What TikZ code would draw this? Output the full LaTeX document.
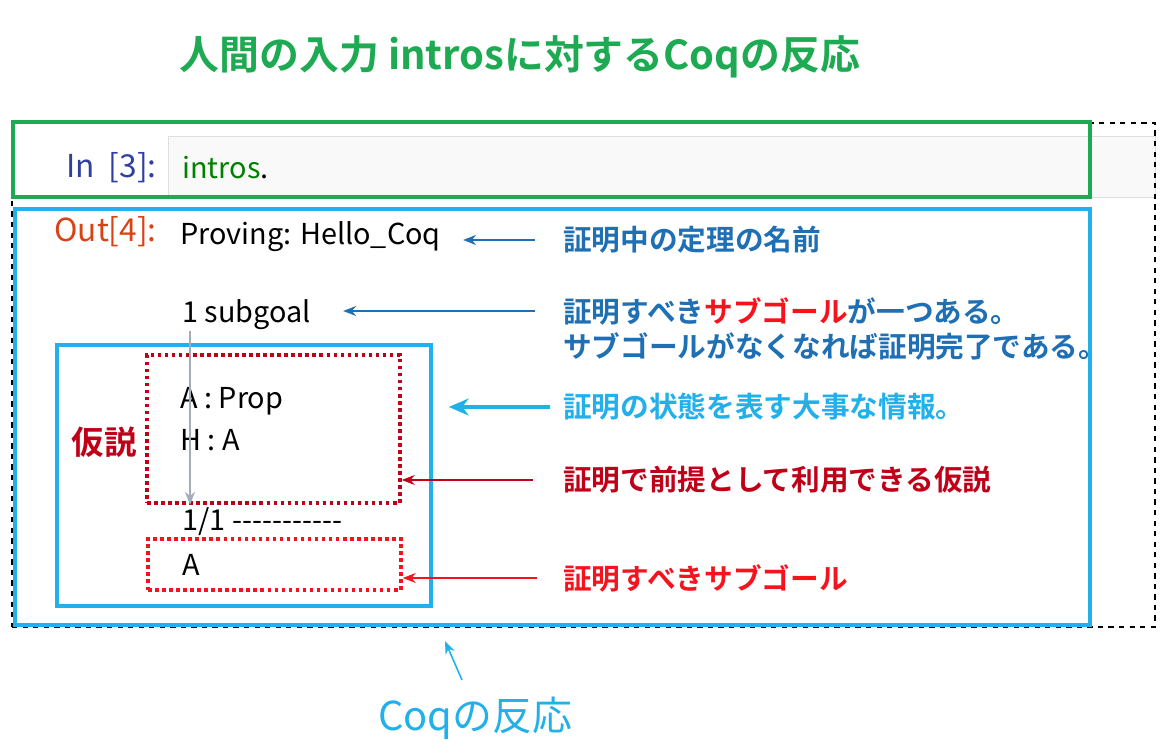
\documentclass[tikz,border=0pt]{standalone}
\usepackage{fontspec}
\setmainfont[BoldFont={Noto Sans CJK JP Bold}]{Noto Sans CJK JP}
\newfontfamily\codefont{Noto Sans CJK JP}
\usetikzlibrary{arrows.meta}
\definecolor{titlegreen}{HTML}{1DAA52}
\definecolor{boxcyan}{HTML}{22B0EA}
\definecolor{noteblue}{HTML}{1F6FB5}
\definecolor{hypred}{HTML}{C00018}
\definecolor{goalred}{HTML}{F5141E}
\definecolor{inblue}{HTML}{303F9F}
\definecolor{outred}{HTML}{D84315}
\definecolor{codegreen}{HTML}{008000}
\definecolor{pathgray}{HTML}{A3ADBA}

\begin{document}
\begin{tikzpicture}[
    x=0.02cm, y=-0.02cm,
    code/.style={anchor=west, inner sep=0pt, font=\codefont\fontsize{16.4}{23.8}\selectfont, align=left},
    prompt/.style={anchor=east, inner sep=0pt, font=\codefont\fontsize{18}{20}\selectfont},
    note/.style={anchor=west, inner sep=0pt, font=\bfseries\fontsize{16.3}{22.7}\selectfont},
    frame/.style={draw=boxcyan, line width=2pt, inner sep=0pt},
    dotbox/.style={line width=2pt, dash pattern=on 2pt off 2pt, inner sep=0pt},
    arr/.style={-{Stealth[length=2.6mm, width=2mm]}, line width=0.9pt}
  ]
  \useasboundingbox (0,0) rectangle (1166,756);

  % title
  \node[font=\bfseries\fontsize{22.7}{26}\selectfont, text=titlegreen] (title) at (520,57)
    {人間の入力 introsに対するCoqの反応};

  % notebook cells
  \node[draw=gray!25, fill=gray!5, minimum width=19.74cm, minimum height=1.22cm, inner sep=0pt]
    (input) at (661.5,166.5) {};
  \node[draw, dashed, line width=0.8pt, minimum width=22.86cm, minimum height=10.08cm, inner sep=0pt]
    (cell) at (583.5,375) {};
  \node[draw=titlegreen, line width=2.2pt, minimum width=21.54cm, minimum height=1.5cm, inner sep=0pt]
    (incell) at (551.5,159.5) {};
  \node[frame, minimum width=21.5cm, minimum height=8.32cm] (outcell) at (552.5,417) {};
  \node[frame, minimum width=7.48cm, minimum height=5.22cm] (state) at (244,475.5) {};
  \node[dotbox, draw=hypred, minimum width=5.06cm, minimum height=2.96cm] (hypbox) at (273.5,429) {};
  \node[dotbox, draw=goalred, minimum width=5.06cm, minimum height=1.02cm] (goalbox) at (274.5,564.5) {};

  % cell contents
  \node[prompt, text=inblue] (inp) at (157,168) {In~~[3]:};
  \node[code] (intros) at (182,168) {\textcolor{codegreen}{intros}.};
  \node[prompt, text=outred] (outp) at (157,232) {Out[4]:};
  \node[code] (proving) at (180,237) {Proving: Hello\_Coq};
  \node[code] (subgoal) at (182,315) {1~subgoal};
  \node[code] (hyps) at (180,419) {A : Prop\\H : A};
  \node[font=\bfseries\fontsize{18.5}{22}\selectfont, text=hypred] (kasetsu) at (104,442) {仮説};
  \node[code] (sep) at (182,522) {1/1 -----------};
  \node[code] (goal) at (182,565) {A};

  % notes
  \node[note, text=noteblue] (nname) at (563,240) {証明中の定理の名前};
  \node[note, text=noteblue] (nsub) at (563,311) {証明すべき\textcolor{goalred}{サブゴール}が一つある。};
  \node[note, text=noteblue] (nsubb) at (563,346) {サブゴールがなくなれば証明完了である。};
  \node[note, text=boxcyan] (nstate) at (563,407) {証明の状態を表す大事な情報。};
  \node[note, text=hypred] (nhyp) at (563,480) {証明で前提として利用できる仮説};
  \node[note, text=goalred] (ngoal) at (563,578) {証明すべきサブゴール};
  \node[font=\fontsize{22.7}{26}\selectfont, text=boxcyan] (resp) at (475,718) {Coqの反応};

  % connectors
  \draw[arr, noteblue, shorten <=0.56cm, shorten >=0.44cm] (nname.west) -- (nname.west -| proving.east);
  \draw[arr, noteblue, shorten <=0.56cm, shorten >=0.64cm] (nsub.west) -- (nsub.west -| subgoal.east);
  \draw[-{Stealth[length=4mm, width=3.4mm]}, boxcyan, line width=2.6pt, shorten <=0.26cm, shorten >=0.32cm]
    (nstate.west) -- (nstate.west -| state.east);
  \draw[arr, hypred, shorten <=0.6cm] (nhyp.west) -- (nhyp.west -| hypbox.east);
  \draw[arr, goalred, shorten <=0.52cm] (ngoal.west) -- (ngoal.west -| goalbox.east);
  \coordinate (gtop) at (190,331);
  \draw[arr, pathgray] (gtop) -- (gtop |- hypbox.south);
  \coordinate (rtail) at (462,680);
  \coordinate (rtip) at (445,641);
  \draw[arr, boxcyan] (rtail) -- (rtip);
\end{tikzpicture}
\end{document}
